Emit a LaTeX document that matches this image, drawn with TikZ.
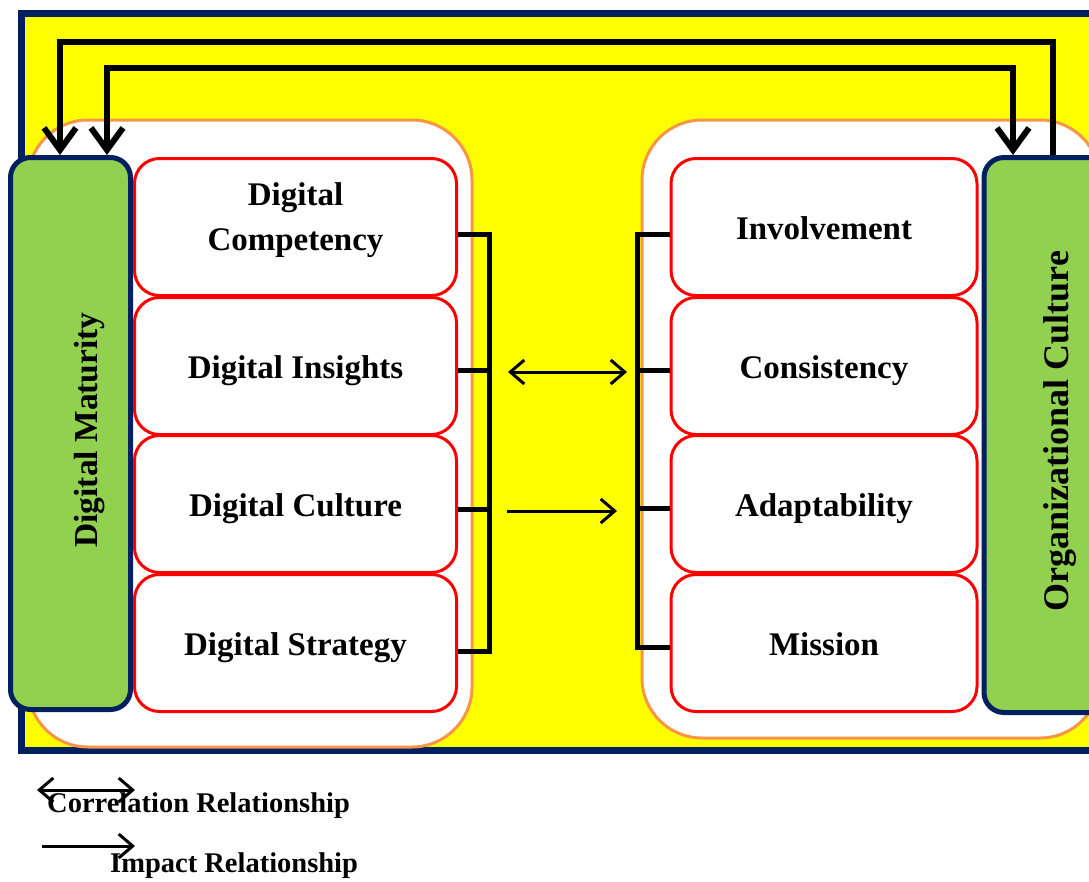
\documentclass[tikz,border=0pt]{standalone}
\usepackage{fontspec}
\setmainfont{Liberation Serif}
\usetikzlibrary{arrows.meta}
\definecolor{dm_navy}{RGB}{0, 32, 96}
\definecolor{dm_green}{RGB}{146, 208, 80}
\definecolor{dm_yellow}{RGB}{255, 255, 0}
\definecolor{dm_orange}{RGB}{247, 150, 70}
\tikzstyle{frame}=[fill=dm_yellow,draw=dm_navy,line width=7pt]
\tikzstyle{panel}=[fill=white,draw=dm_orange,line width=3pt,rounded corners=60pt]
\tikzstyle{pillar}=[fill=dm_green,draw=dm_navy,line width=5pt,rounded corners=20pt,inner sep=0pt]
\tikzstyle{pillarlabel}=[rotate=90,inner sep=0pt,text height=24pt,text depth=0pt,
  font=\bfseries\fontsize{33.5}{40}\selectfont]
\tikzstyle{dimbox}=[fill=white,draw=red,line width=3pt,rounded corners=25pt,
  minimum height=137pt,align=center,inner sep=0pt,text height=24pt,text depth=0pt,
  font=\bfseries\fontsize{33}{45}\selectfont]
\tikzstyle{bracket}=[line width=5pt]
\tikzstyle{link}=[line width=6pt,arrows={-Straight Barb[length=22pt,width=32pt]}]
\tikzstyle{rel}=[line width=3pt]
\tikzstyle{legend}=[anchor=west,inner sep=0pt,font=\bfseries\fontsize{28.5}{34}\selectfont]

\begin{document}
\begin{tikzpicture}[x=1pt,y=-1pt]
    \useasboundingbox (0,0) rectangle (1089,881);
    \clip (0,0) rectangle (1089,881);
    % background
    \draw [style=frame] (21,13) rectangle (1130,750);
    \draw [style=panel] (28,120) rectangle (472,747);
    \draw [style=panel] (642,120) rectangle (1100,738);
    \coordinate (ta1) at (1053,42);
    \coordinate (ta2) at (60,42);
    \coordinate (tb1) at (1013,68);
    \coordinate (tb2) at (107,68);
    \coordinate (lbar) at (489,0);
    \coordinate (rbar) at (637,0);
    \coordinate (ca1) at (508,372);
    \coordinate (ca2) at (627,372);
    \coordinate (ia1) at (507,511);
    \coordinate (ia2) at (617,511);
    % constructs
    \node [style=pillar,minimum width=120pt,minimum height=552pt] (dm) at (70.5,433.5) {};
    \node [style=pillar,minimum width=148pt,minimum height=555pt] (oc) at (1058,435) {};
    \node [style=pillarlabel] (dmt) at (85,430) {Digital Maturity};
    \node [style=pillarlabel,font=\bfseries\fontsize{36}{42}\selectfont] (oct) at (1056,431) {Organizational Culture};
    \node [style=dimbox,minimum width=322pt,text height=46pt,text depth=0pt] (lc1) at (295.5,227) {Digital\\Competency};
    \node [style=dimbox,minimum width=322pt] (lc2) at (295.5,366) {Digital Insights};
    \node [style=dimbox,minimum width=322pt] (lc3) at (295.5,504) {Digital Culture};
    \node [style=dimbox,minimum width=322pt] (lc4) at (295.5,643) {Digital Strategy};
    \node [style=dimbox,minimum width=306pt] (rc1) at (824,227) {Involvement};
    \node [style=dimbox,minimum width=306pt] (rc2) at (824,366) {Consistency};
    \node [style=dimbox,minimum width=306pt] (rc3) at (824,504) {Adaptability};
    \node [style=dimbox,minimum width=306pt] (rc4) at (824,643) {Mission};
    % top links
    \draw [style=link] (oc.north -| ta1) to (ta1) to (ta2) to (dm.north -| ta2);
    \draw [style=link,arrows={Straight Barb[length=22pt,width=32pt]-Straight Barb[length=22pt,width=32pt]}] (dm.north -| tb2) to (tb2) to (tb1) to (oc.north -| tb1);
    % brackets
    \draw [style=bracket] ([yshift=-7pt]lc1.east) to ([yshift=-7pt]lc1.east -| lbar) to ([yshift=-8pt]lc4.east -| lbar) to ([yshift=-8pt]lc4.east);
    \draw [style=bracket] ([yshift=-4pt]lc2.east) to ([yshift=-4pt]lc2.east -| lbar);
    \draw [style=bracket] ([yshift=-5pt]lc3.east) to ([yshift=-5pt]lc3.east -| lbar);
    \draw [style=bracket] ([yshift=-7pt]rc1.west) to ([yshift=-7pt]rc1.west -| rbar) to ([yshift=-4pt]rc4.west -| rbar) to ([yshift=-4pt]rc4.west);
    \draw [style=bracket] ([yshift=-4pt]rc2.west) to ([yshift=-4pt]rc2.west -| rbar);
    \draw [style=bracket] ([yshift=-4pt]rc3.west) to ([yshift=-4pt]rc3.west -| rbar);
    % relations
    \draw [style=rel,arrows={Straight Barb[length=14pt,width=24pt]-Straight Barb[length=14pt,width=24pt]}] (ca1) to (ca2);
    \draw [style=rel,arrows={-Straight Barb[length=14pt,width=24pt]}] (ia1) to (ia2);
    % legend
    \coordinate (la1) at (37,790);
    \coordinate (la2) at (135,790);
    \coordinate (lb1) at (42,846);
    \coordinate (lb2) at (135,846);
    \node [style=legend] (corr) at (47,806) {Correlation Relationship};
    \node [style=legend] (imp) at (110,866) {Impact Relationship};
    \draw [style=rel,arrows={Straight Barb[length=14pt,width=24pt]-Straight Barb[length=14pt,width=24pt]}] (la1) to (la2);
    \draw [style=rel,arrows={-Straight Barb[length=14pt,width=24pt]}] (lb1) to (lb2);
\end{tikzpicture}
\end{document}
